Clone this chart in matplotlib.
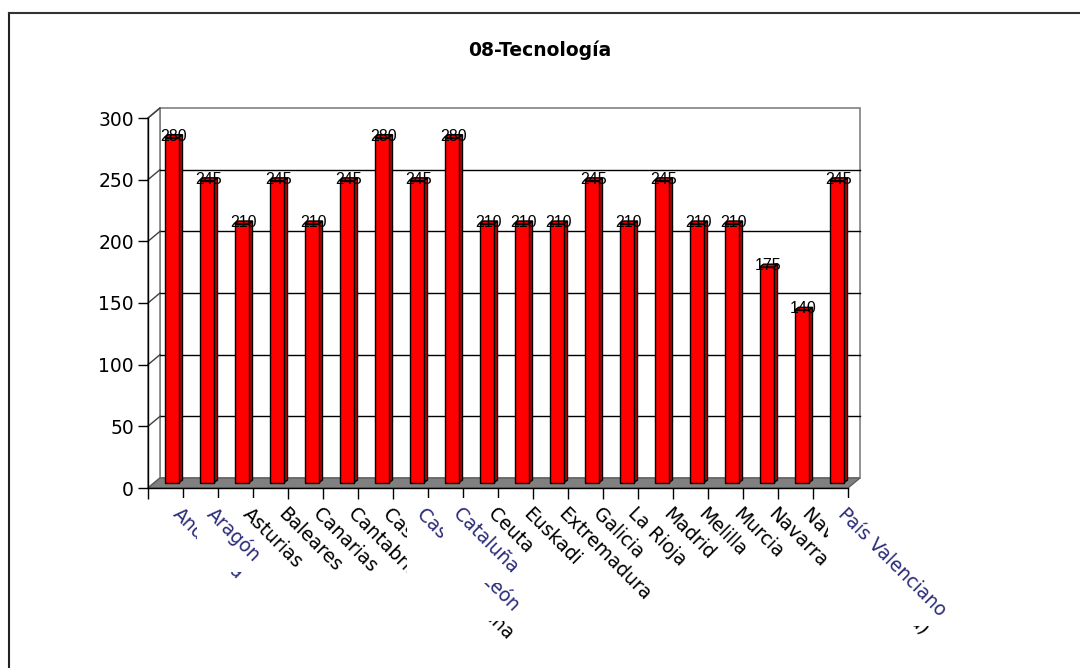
import matplotlib
matplotlib.use('Agg')
import matplotlib.pyplot as plt
import numpy as np
from matplotlib.patches import Polygon, Rectangle
from matplotlib.lines import Line2D
from matplotlib.transforms import offset_copy, IdentityTransform

title = '08-Tecnología'
regions = ['Andalucía', 'Aragón', 'Asturias', 'Baleares', 'Canarias', 'Cantabria',
           'Castilla-La Mancha', 'Castilla y León', 'Cataluña', 'Ceuta', 'Euskadi',
           'Extremadura', 'Galicia', 'La Rioja', 'Madrid', 'Melilla', 'Murcia',
           'Navarra', 'Navarra (Euskera)', 'País Valenciano']
values = [280, 245, 210, 245, 210, 245, 280, 245, 280, 210,
          210, 210, 245, 210, 245, 210, 210, 175, 140, 245]
# labels pasted in with their own white background
patched = ['Andalucía', 'Aragón', 'Castilla y León', 'Cataluña', 'País Valenciano']
yticks = [0, 50, 100, 150, 200, 250, 300]

W, H = 1080, 668
fig = plt.figure(figsize=(W / 100, H / 100), dpi=100)
ax = fig.add_axes([148 / W, 180 / H, 700 / W, 370 / H])
n = len(regions)
ymax = yticks[-1]
ax.set_xlim(0, n)
ax.set_ylim(0, ymax)
ax.patch.set_alpha(0)

# pixel -> data conversion for the fake 3d depth
sx = n / 700.0
sy = ymax / 370.0
dx, dy = 12 * sx, 10 * sy      # depth of the whole box
bdx, bdy = 4 * sx, 3 * sy      # depth of each bar
bw = 0.4

wall = '#808080'
# back wall, left wall and floor
ax.add_patch(Polygon([(dx, dy), (n + dx, dy), (n + dx, ymax + dy), (dx, ymax + dy)],
                     closed=True, facecolor='white', edgecolor=wall, lw=1.2,
                     clip_on=False, zorder=0.5))
ax.add_patch(Polygon([(0, 0), (dx, dy), (dx, ymax + dy), (0, ymax)],
                     closed=True, facecolor='white', edgecolor=wall, lw=1.2,
                     clip_on=False, zorder=0.6))
ax.add_patch(Polygon([(0, 0), (n, 0), (n + dx, dy), (dx, dy)],
                     closed=True, facecolor=wall, edgecolor='#606060', lw=1,
                     clip_on=False, zorder=1))

for yt in yticks[1:-1]:
    ax.plot([dx, n + dx], [yt + dy, yt + dy], color='black', lw=1,
            clip_on=False, zorder=0.8)
for yt in yticks[1:]:
    ax.plot([0, dx], [yt, yt + dy], color='#404040', lw=1,
            clip_on=False, zorder=0.8)

# bars: side and top faces first, front face on top
xs = np.arange(n) + 0.5 + dx / 2
base = dy / 2
for x, v in zip(xs, values):
    r = x + bw / 2
    l = x - bw / 2
    top = base + v
    ax.add_patch(Polygon([(r, base), (r, top), (r + bdx, top + bdy), (r + bdx, base + bdy)],
                         closed=True, facecolor='#c80000', edgecolor='black', lw=1,
                         clip_on=False, zorder=2.8))
    ax.add_patch(Polygon([(l, top), (r, top), (r + bdx, top + bdy), (l + bdx, top + bdy)],
                         closed=True, facecolor='#e00000', edgecolor='black', lw=1,
                         clip_on=False, zorder=2.8))
ax.bar(xs, values, width=bw, bottom=base, color='#ff0000', edgecolor='black',
       lw=1, zorder=3)

for x, v in zip(xs, values):
    ax.text(x + bdx / 2, base + v + bdy / 2, str(v), ha='center', va='center',
            fontsize=11.5, family='Liberation Sans', color='black', zorder=4)

# axes
for side in ['top', 'right']:
    ax.spines[side].set_visible(False)
for side in ['left', 'bottom']:
    ax.spines[side].set_color('black')
    ax.spines[side].set_linewidth(1)
    ax.spines[side].set_zorder(2)
ax.set_yticks(yticks)
ax.set_xticks(range(n + 1))
ax.tick_params(axis='y', length=7, width=1, labelsize=13.5, pad=3)
ax.tick_params(axis='x', length=8, width=1, labelbottom=False)

# category labels, rotated; each one drawn over the previous ones
lab_tr = offset_copy(ax.get_xaxis_transform(), fig=fig, x=17, y=-16, units='dots')
labels = []
for i, name in enumerate(regions):
    t = ax.text(i + 0.5, 0, name, transform=lab_tr, rotation=-45,
                rotation_mode='anchor', ha='left', va='top', fontsize=13.5,
                color='#2c2c78' if name in patched else 'black',
                clip_on=False, zorder=5 + 2 * i)
    labels.append(t)

fig.text(540 / W, 1 - 50 / H, title, ha='center', va='center',
         fontsize=13.5, fontweight='bold')

# outer frame (top and left edges only)
fig.add_artist(Line2D([9 / W, 9 / W], [0, 1 - 13 / H], transform=fig.transFigure,
                      color='#222222', lw=1.5))
fig.add_artist(Line2D([9 / W, 1], [1 - 13 / H, 1 - 13 / H], transform=fig.transFigure,
                      color='#333333', lw=1.5))

# white patch behind each pasted label, hiding the labels drawn before it
fig.canvas.draw()
renderer = fig.canvas.get_renderer()
pad = 6
for t in labels:
    if t.get_text() not in patched:
        continue
    bb = t.get_window_extent(renderer)
    rect = Rectangle((bb.x0 - pad, bb.y0 - pad), bb.width + 2 * pad, bb.height + 2 * pad,
                     transform=IdentityTransform(), facecolor='white',
                     edgecolor='none', clip_on=False, zorder=t.get_zorder() - 0.5)
    ax.add_artist(rect)

fig.savefig('out.png', dpi=100)
